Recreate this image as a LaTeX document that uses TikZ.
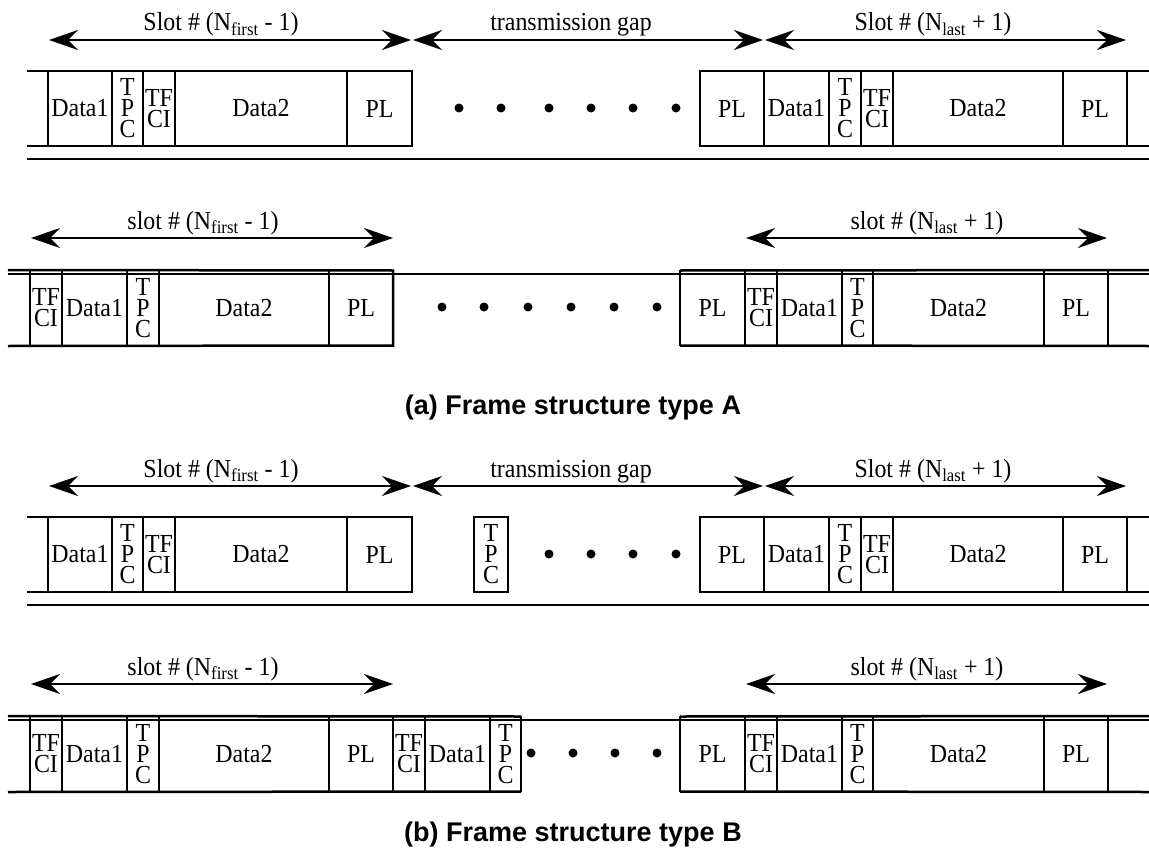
\documentclass[tikz,border=0pt]{standalone}
\usepackage{fontspec}
\setmainfont{Liberation Serif}[FakeStretch=0.92]
\newfontfamily\capfont{Liberation Sans}
\usetikzlibrary{arrows.meta}

\begin{document}
\begin{tikzpicture}[x=1pt, y=-1pt,
    cell/.style={draw=black, line width=1.3pt, inner sep=0pt, outer sep=0pt, minimum height=75pt, anchor=west, align=center, font=\fontsize{26}{21}\selectfont},
    frameline/.style={draw=black, line width=2.5pt},
    thinline/.style={draw=black, line width=1.3pt},
    slotspan/.style={line width=1.3pt, >={Stealth[length=29pt, width=20pt, inset=10pt]}, <->},
    spanlabel/.style={font=\fontsize{26}{30}\selectfont, inner sep=0pt, anchor=base},
    gapdot/.style={circle, fill=black, inner sep=0pt, minimum size=9pt},
    figcap/.style={font=\capfont\bfseries\fontsize{27}{32}\selectfont}]
    \useasboundingbox (0,0) rectangle (1149,859);

    % (a) first line
    \coordinate (a1s1) at (49,40);
    \coordinate (a1s2) at (411,40);
    \coordinate (a1g1) at (413,40);
    \coordinate (a1g2) at (763,40);
    \coordinate (a1t1) at (765,40);
    \coordinate (a1t2) at (1126,40);
    \draw[slotspan] (a1s1) -- (a1s2);
    \draw[slotspan] (a1g1) -- (a1g2);
    \draw[slotspan] (a1t1) -- (a1t2);
    \node[spanlabel] (a1lab1) at (221,31) {Slot \# (N\textsubscript{first} - 1)};
    \node[spanlabel] (a1lab2) at (571,31) {transmission gap};
    \node[spanlabel] (a1lab3) at (933,31) {Slot \# (N\textsubscript{last} + 1)};
    \node[cell, minimum width=64pt] (a1d1) at (48,108.5) {Data1};
    \node[cell, minimum width=31pt] (a1tpc) at (112,108.5) {T\\P\\C};
    \node[cell, minimum width=32pt] (a1tfci) at (143,108.5) {TF\\CI};
    \node[cell, minimum width=172pt] (a1d2) at (175,108.5) {Data2};
    \node[cell, minimum width=65pt] (a1pl) at (347,108.5) {PL};
    \draw[frameline] (27,71) -- (a1pl.north east) -- (a1pl.south east) -- (27,146);
    \node[gapdot] (a1dot1) at (459,108) {};
    \node[gapdot] (a1dot2) at (501,108) {};
    \node[gapdot] (a1dot3) at (549,108) {};
    \node[gapdot] (a1dot4) at (591,108) {};
    \node[gapdot] (a1dot5) at (633,108) {};
    \node[gapdot] (a1dot6) at (676,108) {};
    \node[cell, minimum width=64pt] (a1pl2) at (700,108.5) {PL};
    \node[cell, minimum width=65pt] (a1d12) at (764,108.5) {Data1};
    \node[cell, minimum width=32pt] (a1tpc2) at (829,108.5) {T\\P\\C};
    \node[cell, minimum width=32pt] (a1tfci2) at (861,108.5) {TF\\CI};
    \node[cell, minimum width=170pt] (a1d22) at (893,108.5) {Data2};
    \node[cell, minimum width=64pt] (a1pl3) at (1063,108.5) {PL};
    \draw[frameline] (1149,71) -- (a1pl2.north west) -- (a1pl2.south west) -- (1149,146);
    \draw[frameline] (a1pl3.north east) -- (a1pl3.south east);
    \draw[line width=2pt] (27,159) -- (1149,159);

    % (a) second line
    \coordinate (a2s1) at (31,238);
    \coordinate (a2s2) at (393,238);
    \coordinate (a2t1) at (746,238);
    \coordinate (a2t2) at (1107,238);
    \draw[slotspan] (a2s1) -- (a2s2);
    \draw[slotspan] (a2t1) -- (a2t2);
    \node[spanlabel] (a2lab1) at (203,229) {slot \# (N\textsubscript{first} - 1)};
    \node[spanlabel] (a2lab3) at (927,229) {slot \# (N\textsubscript{last} + 1)};
    \node[cell, minimum width=32pt] (a2tfci) at (30,308) {TF\\CI};
    \node[cell, minimum width=65pt] (a2d1) at (62,308) {Data1};
    \node[cell, minimum width=32pt] (a2tpc) at (127,308) {T\\P\\C};
    \node[cell, minimum width=170pt] (a2d2) at (159,308) {Data2};
    \node[cell, minimum width=64pt] (a2pl) at (329,308) {PL};
    \draw[frameline] (8,270) -- (a2pl.north east) -- (a2pl.south east) -- (8,346);
    \draw[frameline] (a2tfci.north west) -- (a2tfci.south west);
    \draw[frameline] (a2tpc.north west) -- (a2tpc.south west);
    \node[gapdot] (a2dot1) at (442,307) {};
    \node[gapdot] (a2dot2) at (484,307) {};
    \node[gapdot] (a2dot3) at (528,307) {};
    \node[gapdot] (a2dot4) at (571,307) {};
    \node[gapdot] (a2dot5) at (614,307) {};
    \node[gapdot] (a2dot6) at (657,307) {};
    \node[cell, minimum width=65pt] (a2pl2) at (680,308) {PL};
    \node[cell, minimum width=32pt] (a2tfci2) at (745,308) {TF\\CI};
    \node[cell, minimum width=65pt] (a2d12) at (777,308) {Data1};
    \node[cell, minimum width=31pt] (a2tpc2) at (842,308) {T\\P\\C};
    \node[cell, minimum width=171pt] (a2d22) at (873,308) {Data2};
    \node[cell, minimum width=64pt] (a2pl3) at (1044,308) {PL};
    \draw[frameline] (1149,270) -- (a2pl2.north west);
    \draw[frameline] (1149,346) -- (a2pl2.south west);
    \draw[frameline] (a2tfci2.north west) -- (a2tfci2.south west);
    \draw[frameline] (a2pl3.north east) -- (a2pl3.south east);
    \draw[thinline] (8,274) -- (1149,274);

    \node[figcap] (capa) at (573,408) {(a) Frame structure type A};

    % (b) first line
    \coordinate (b1s1) at (49,486);
    \coordinate (b1s2) at (411,486);
    \coordinate (b1g1) at (413,486);
    \coordinate (b1g2) at (763,486);
    \coordinate (b1t1) at (765,486);
    \coordinate (b1t2) at (1126,486);
    \draw[slotspan] (b1s1) -- (b1s2);
    \draw[slotspan] (b1g1) -- (b1g2);
    \draw[slotspan] (b1t1) -- (b1t2);
    \node[spanlabel] (b1lab1) at (221,477) {Slot \# (N\textsubscript{first} - 1)};
    \node[spanlabel] (b1lab2) at (571,477) {transmission gap};
    \node[spanlabel] (b1lab3) at (933,477) {Slot \# (N\textsubscript{last} + 1)};
    \node[cell, minimum width=64pt] (b1d1) at (48,554.5) {Data1};
    \node[cell, minimum width=31pt] (b1tpc) at (112,554.5) {T\\P\\C};
    \node[cell, minimum width=32pt] (b1tfci) at (143,554.5) {TF\\CI};
    \node[cell, minimum width=172pt] (b1d2) at (175,554.5) {Data2};
    \node[cell, minimum width=65pt] (b1pl) at (347,554.5) {PL};
    \draw[frameline] (27,517) -- (b1pl.north east) -- (b1pl.south east) -- (27,592);
    \node[cell, line width=2.5pt, minimum width=34pt] (b1tpcg) at (474,554.5) {T\\P\\C};
    \node[gapdot] (b1dot1) at (549,554) {};
    \node[gapdot] (b1dot2) at (591,554) {};
    \node[gapdot] (b1dot3) at (633,554) {};
    \node[gapdot] (b1dot4) at (676,554) {};
    \node[cell, minimum width=64pt] (b1pl2) at (700,554.5) {PL};
    \node[cell, minimum width=65pt] (b1d12) at (764,554.5) {Data1};
    \node[cell, minimum width=32pt] (b1tpc2) at (829,554.5) {T\\P\\C};
    \node[cell, minimum width=32pt] (b1tfci2) at (861,554.5) {TF\\CI};
    \node[cell, minimum width=170pt] (b1d22) at (893,554.5) {Data2};
    \node[cell, minimum width=64pt] (b1pl3) at (1063,554.5) {PL};
    \draw[frameline] (1149,517) -- (b1pl2.north west) -- (b1pl2.south west) -- (1149,592);
    \draw[frameline] (b1pl3.north east) -- (b1pl3.south east);
    \draw[line width=2pt] (27,605) -- (1149,605);

    % (b) second line
    \coordinate (b2s1) at (31,684);
    \coordinate (b2s2) at (393,684);
    \coordinate (b2t1) at (746,684);
    \coordinate (b2t2) at (1107,684);
    \draw[slotspan] (b2s1) -- (b2s2);
    \draw[slotspan] (b2t1) -- (b2t2);
    \node[spanlabel] (b2lab1) at (203,675) {slot \# (N\textsubscript{first} - 1)};
    \node[spanlabel] (b2lab3) at (927,675) {slot \# (N\textsubscript{last} + 1)};
    \node[cell, minimum width=32pt] (b2tfci) at (30,754) {TF\\CI};
    \node[cell, minimum width=65pt] (b2d1) at (62,754) {Data1};
    \node[cell, minimum width=32pt] (b2tpc) at (127,754) {T\\P\\C};
    \node[cell, minimum width=170pt] (b2d2) at (159,754) {Data2};
    \node[cell, minimum width=64pt] (b2pl) at (329,754) {PL};
    \node[cell, minimum width=32pt] (b2tfcig) at (393,754) {TF\\CI};
    \node[cell, minimum width=65pt] (b2d1g) at (425,754) {Data1};
    \node[cell, minimum width=31pt] (b2tpcg) at (490,754) {T\\P\\C};
    \draw[frameline] (8,716) -- (b2tpcg.north east);
    \draw[frameline] (8,792) -- (b2tpcg.south east);
    \draw[frameline] (b2tfci.north west) -- (b2tfci.south west);
    \draw[frameline] (b2tpc.north west) -- (b2tpc.south west);
    \draw[frameline] (b2tfcig.north west) -- (b2tfcig.south west);
    \draw[frameline] (b2tpcg.north west) -- (b2tpcg.south west);
    \node[gapdot] (b2dot1) at (531,753) {};
    \node[gapdot] (b2dot2) at (573,753) {};
    \node[gapdot] (b2dot3) at (615,753) {};
    \node[gapdot] (b2dot4) at (657,753) {};
    \node[cell, minimum width=65pt] (b2pl2) at (680,754) {PL};
    \node[cell, minimum width=32pt] (b2tfci2) at (745,754) {TF\\CI};
    \node[cell, minimum width=65pt] (b2d12) at (777,754) {Data1};
    \node[cell, minimum width=31pt] (b2tpc2) at (842,754) {T\\P\\C};
    \node[cell, minimum width=171pt] (b2d22) at (873,754) {Data2};
    \node[cell, minimum width=64pt] (b2pl3) at (1044,754) {PL};
    \draw[frameline] (1149,716) -- (b2pl2.north west);
    \draw[frameline] (1149,792) -- (b2pl2.south west);
    \draw[frameline] (b2tfci2.north west) -- (b2tfci2.south west);
    \draw[frameline] (b2pl3.north east) -- (b2pl3.south east);
    \draw[thinline] (8,720) -- (1149,720);

    \node[figcap] (capb) at (573,835) {(b) Frame structure type B};
\end{tikzpicture}
\end{document}
